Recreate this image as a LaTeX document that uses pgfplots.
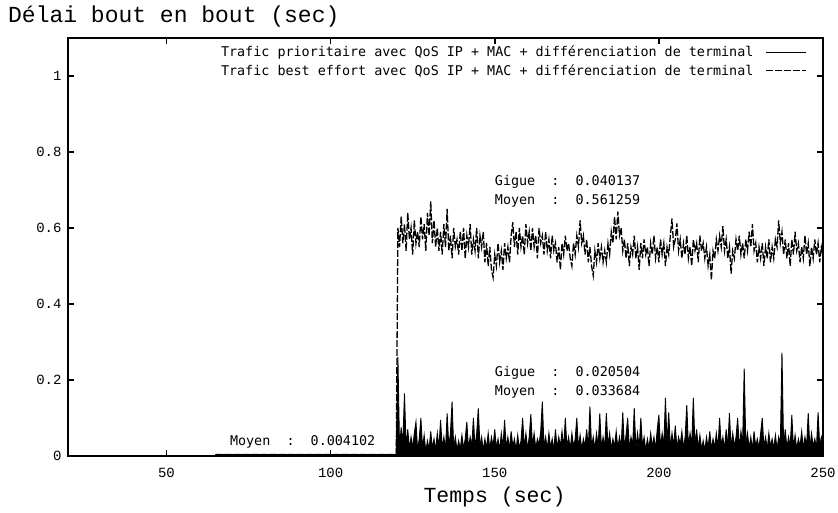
\documentclass[border=0pt]{standalone}
\usepackage{pgfplots}
\pgfplotsset{compat=1.18}
\usepackage{pgfplotstable}
\usepackage{fontspec}
\setmainfont{Liberation Mono}
\newfontfamily\smallmono{DejaVu Sans Mono}
\pgfplotstableread{
t d
65 0.004
120.0 0.004
120.5 0.26
121.0 0.02
121.5 0.075
122.0 0.03
122.5 0.165
123.0 0.025
123.5 0.07
124.0 0.018
124.5 0.05
125.0 0.022
125.5 0.06
126.0 0.09
126.5 0.015
127.0 0.045
127.5 0.10
128.0 0.02
128.5 0.055
129.0 0.012
129.5 0.04
130.0 0.018
130.5 0.065
131.0 0.02
131.5 0.045
132.0 0.015
132.5 0.06
133.0 0.022
133.5 0.095
134.0 0.02
134.5 0.05
135.0 0.015
135.5 0.112
136.0 0.025
136.5 0.06
137.0 0.143
137.5 0.02
138.0 0.05
138.5 0.015
139.0 0.04
139.5 0.018
140.0 0.055
140.5 0.02
141.0 0.045
141.5 0.09
142.0 0.018
142.5 0.05
143.0 0.025
143.5 0.10
144.0 0.02
144.5 0.06
145.0 0.125
145.5 0.022
146.0 0.05
146.5 0.015
147.0 0.045
147.5 0.02
148.0 0.06
148.5 0.018
149.0 0.05
149.5 0.025
150.0 0.07
150.5 0.02
151.0 0.045
151.5 0.015
152.0 0.06
152.5 0.022
153.0 0.095
153.5 0.02
154.0 0.05
154.5 0.018
155.0 0.065
155.5 0.025
156.0 0.045
156.5 0.015
157.0 0.055
157.5 0.02
158.0 0.04
158.5 0.10
159.0 0.022
159.5 0.06
160.0 0.018
160.5 0.05
161.0 0.11
161.5 0.025
162.0 0.06
162.5 0.02
163.0 0.045
163.5 0.03
164.0 0.065
164.5 0.143
165.0 0.025
165.5 0.05
166.0 0.018
166.5 0.06
167.0 0.022
167.5 0.045
168.0 0.015
168.5 0.07
169.0 0.02
169.5 0.05
170.0 0.025
170.5 0.065
171.0 0.02
171.5 0.10
172.0 0.022
172.5 0.05
173.0 0.018
173.5 0.06
174.0 0.025
174.5 0.045
175.0 0.10
175.5 0.02
176.0 0.055
176.5 0.018
177.0 0.045
177.5 0.025
178.0 0.07
178.5 0.02
179.0 0.13
179.5 0.022
180.0 0.05
180.5 0.018
181.0 0.06
181.5 0.025
182.0 0.112
182.5 0.02
183.0 0.05
183.5 0.022
184.0 0.113
184.5 0.025
185.0 0.06
185.5 0.018
186.0 0.045
186.5 0.025
187.0 0.065
187.5 0.02
188.0 0.05
188.5 0.022
189.0 0.115
189.5 0.02
190.0 0.055
190.5 0.10
191.0 0.018
191.5 0.05
192.0 0.025
192.5 0.126
193.0 0.02
193.5 0.06
194.0 0.022
194.5 0.10
195.0 0.025
195.5 0.05
196.0 0.015
196.5 0.045
197.0 0.02
197.5 0.06
198.0 0.025
198.5 0.05
199.0 0.018
199.5 0.07
200.0 0.108
200.5 0.022
201.0 0.06
201.5 0.025
202.0 0.153
202.5 0.03
203.0 0.115
203.5 0.02
204.0 0.06
204.5 0.025
205.0 0.08
205.5 0.02
206.0 0.05
206.5 0.03
207.0 0.065
207.5 0.022
208.0 0.05
208.5 0.134
209.0 0.025
209.5 0.06
210.0 0.03
210.5 0.153
211.0 0.025
211.5 0.07
212.0 0.02
212.5 0.055
213.0 0.018
213.5 0.04
214.0 0.015
214.5 0.05
215.0 0.02
215.5 0.065
216.0 0.018
216.5 0.045
217.0 0.022
217.5 0.06
218.0 0.02
218.5 0.10
219.0 0.025
219.5 0.05
220.0 0.018
220.5 0.07
221.0 0.025
221.5 0.113
222.0 0.02
222.5 0.06
223.0 0.025
223.5 0.05
224.0 0.10
224.5 0.02
225.0 0.065
225.5 0.03
226.0 0.23
226.5 0.025
227.0 0.06
227.5 0.02
228.0 0.05
228.5 0.018
229.0 0.065
229.5 0.025
230.0 0.045
230.5 0.02
231.0 0.06
231.5 0.10
232.0 0.022
232.5 0.05
233.0 0.018
233.5 0.06
234.0 0.025
234.5 0.045
235.0 0.02
235.5 0.055
236.0 0.018
236.5 0.05
237.0 0.03
237.5 0.272
238.0 0.025
238.5 0.07
239.0 0.02
239.5 0.05
240.0 0.025
240.5 0.108
241.0 0.02
241.5 0.055
242.0 0.018
242.5 0.045
243.0 0.025
243.5 0.065
244.0 0.02
244.5 0.05
245.0 0.025
245.5 0.113
246.0 0.02
246.5 0.06
247.0 0.025
247.5 0.045
248.0 0.02
248.5 0.115
249.0 0.025
249.5 0.05
250.0 0.03
}\prio
\pgfplotstableread{
t d
65 0.004
120.0 0.004
120.5 0.60
121.0 0.55
121.5 0.63
122.0 0.56
122.5 0.61
123.0 0.54
123.5 0.64
124.0 0.57
124.5 0.60
125.0 0.53
125.5 0.62
126.0 0.56
126.5 0.59
127.0 0.55
127.5 0.63
128.0 0.57
128.5 0.61
129.0 0.54
129.5 0.64
130.0 0.58
130.5 0.67
131.0 0.56
131.5 0.62
132.0 0.55
132.5 0.60
133.0 0.54
133.5 0.59
134.0 0.53
134.5 0.61
135.0 0.55
135.5 0.65
136.0 0.54
136.5 0.58
137.0 0.52
137.5 0.60
138.0 0.55
138.5 0.57
139.0 0.53
139.5 0.59
140.0 0.54
140.5 0.60
141.0 0.52
141.5 0.58
142.0 0.55
142.5 0.61
143.0 0.53
143.5 0.57
144.0 0.54
144.5 0.60
145.0 0.52
145.5 0.58
146.0 0.55
146.5 0.59
147.0 0.51
147.5 0.56
148.0 0.50
148.5 0.55
149.0 0.49
149.5 0.47
150.0 0.53
150.5 0.50
151.0 0.56
151.5 0.51
152.0 0.54
152.5 0.49
153.0 0.56
153.5 0.52
154.0 0.55
154.5 0.51
155.0 0.58
155.5 0.615
156.0 0.55
156.5 0.59
157.0 0.53
157.5 0.60
158.0 0.55
158.5 0.58
159.0 0.53
159.5 0.61
160.0 0.56
160.5 0.59
161.0 0.54
161.5 0.60
162.0 0.55
162.5 0.58
163.0 0.52
163.5 0.60
164.0 0.56
164.5 0.58
165.0 0.53
165.5 0.59
166.0 0.54
166.5 0.57
167.0 0.52
167.5 0.58
168.0 0.54
168.5 0.56
169.0 0.51
169.5 0.55
170.0 0.49
170.5 0.56
171.0 0.53
171.5 0.58
172.0 0.54
172.5 0.56
173.0 0.52
173.5 0.50
174.0 0.56
174.5 0.53
175.0 0.58
175.5 0.55
176.0 0.62
176.5 0.56
177.0 0.58
177.5 0.53
178.0 0.57
178.5 0.51
179.0 0.55
179.5 0.50
180.0 0.475
180.5 0.54
181.0 0.51
181.5 0.56
182.0 0.52
182.5 0.55
183.0 0.51
183.5 0.54
184.0 0.51
184.5 0.56
185.0 0.53
185.5 0.59
186.0 0.56
186.5 0.63
187.0 0.57
187.5 0.643
188.0 0.58
188.5 0.60
189.0 0.54
189.5 0.57
190.0 0.52
190.5 0.56
191.0 0.50
191.5 0.55
192.0 0.53
192.5 0.58
193.0 0.52
193.5 0.55
194.0 0.49
194.5 0.56
195.0 0.52
195.5 0.57
196.0 0.53
196.5 0.55
197.0 0.50
197.5 0.56
198.0 0.53
198.5 0.58
199.0 0.52
199.5 0.55
200.0 0.51
200.5 0.57
201.0 0.53
201.5 0.56
202.0 0.50
202.5 0.55
203.0 0.53
203.5 0.58
204.0 0.625
204.5 0.55
205.0 0.57
205.5 0.612
206.0 0.54
206.5 0.57
207.0 0.52
207.5 0.56
208.0 0.53
208.5 0.58
209.0 0.52
209.5 0.55
210.0 0.50
210.5 0.57
211.0 0.54
211.5 0.56
212.0 0.51
212.5 0.58
213.0 0.54
213.5 0.56
214.0 0.52
214.5 0.55
215.0 0.50
215.5 0.53
216.0 0.463
216.5 0.54
217.0 0.52
217.5 0.57
218.0 0.54
218.5 0.58
219.0 0.55
219.5 0.605
220.0 0.54
220.5 0.57
221.0 0.52
221.5 0.55
222.0 0.48
222.5 0.54
223.0 0.52
223.5 0.57
224.0 0.54
224.5 0.58
225.0 0.53
225.5 0.56
226.0 0.52
226.5 0.57
227.0 0.54
227.5 0.59
228.0 0.55
228.5 0.61
229.0 0.54
229.5 0.56
230.0 0.51
230.5 0.55
231.0 0.52
231.5 0.56
232.0 0.50
232.5 0.55
233.0 0.52
233.5 0.57
234.0 0.51
234.5 0.55
235.0 0.52
235.5 0.57
236.0 0.55
236.5 0.62
237.0 0.56
237.5 0.59
238.0 0.53
238.5 0.57
239.0 0.52
239.5 0.56
240.0 0.50
240.5 0.57
241.0 0.53
241.5 0.59
242.0 0.54
242.5 0.56
243.0 0.51
243.5 0.55
244.0 0.52
244.5 0.58
245.0 0.53
245.5 0.56
246.0 0.50
246.5 0.55
247.0 0.52
247.5 0.57
248.0 0.53
248.5 0.56
249.0 0.51
249.5 0.55
250.0 0.53
}\best
\begin{document}
\begin{tikzpicture}
\path[use as bounding box] (-68pt,-56pt) rectangle (770pt,456pt);
\begin{axis}[
  at={(0pt,0pt)}, anchor=south west,
  scale only axis, width=755pt, height=418pt,
  xmin=20, xmax=250, ymin=0, ymax=1.1,
  xtick={50,100,150,200,250},
  ytick={0,0.2,0.4,0.6,0.8,1},
  tick align=inside,
  major tick length=6pt,
  axis line style={line width=1.6pt},
  every tick/.style={line width=1.6pt, black},
  tick label style={font=\fontsize{14}{14}\selectfont},
  /pgf/number format/assume math mode=true,
  xticklabel style={yshift=-9pt},
  yticklabel style={xshift=-3pt},
  legend plot pos=right,
  legend cell align=right,
  legend style={at={(1,1)}, anchor=north east, xshift=-16pt, yshift=-6pt,
    draw=none, fill=none, inner sep=0pt,
    font=\smallmono\fontsize{13.4}{16}\selectfont, row sep=2pt, column sep=10pt},
  legend image code/.code={\draw[#1] (0pt,0pt) -- (40pt,0pt);},
]
\addplot[black, fill=black, line width=0.9pt] table[x=t,y=d] {\prio} \closedcycle;
\addlegendentry{Trafic prioritaire avec QoS IP + MAC + différenciation de terminal}
\addplot[black, line width=1.3pt, dash pattern=on 7pt off 2pt] table[x=t,y=d] {\best};
\addlegendentry{Trafic best effort avec QoS IP + MAC + différenciation de terminal}
\node[anchor=west, inner sep=0pt, font=\smallmono\fontsize{13.4}{14}\selectfont] at (axis cs:69.3,0.0376) {Moyen\ \ :\ \ 0.004102};
\node[anchor=west, inner sep=0pt, font=\smallmono\fontsize{13.4}{14}\selectfont] at (axis cs:150,0.2176) {Gigue\ \ :\ \ 0.020504};
\node[anchor=west, inner sep=0pt, font=\smallmono\fontsize{13.4}{14}\selectfont] at (axis cs:150,0.1676) {Moyen\ \ :\ \ 0.033684};
\node[anchor=west, inner sep=0pt, font=\smallmono\fontsize{13.4}{14}\selectfont] at (axis cs:150,0.721) {Gigue\ \ :\ \ 0.040137};
\node[anchor=west, inner sep=0pt, font=\smallmono\fontsize{13.4}{14}\selectfont] at (axis cs:150,0.672) {Moyen\ \ :\ \ 0.561259};
\end{axis}
\node[anchor=west, inner sep=0pt, font=\fontsize{23}{23}\selectfont] at (-60pt,439pt) {Délai bout en bout (sec)};
\node[inner sep=0pt, font=\fontsize{21.5}{21.5}\selectfont] at (426.5pt,-41pt) {Temps (sec)};
\end{tikzpicture}
\end{document}
